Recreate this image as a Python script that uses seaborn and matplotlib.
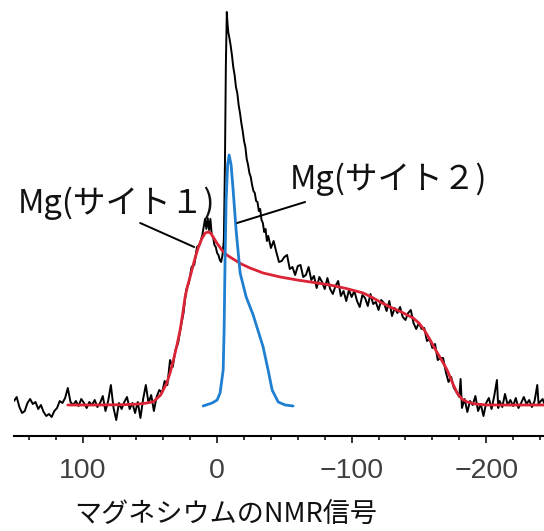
import matplotlib
matplotlib.use("Agg")
import matplotlib.pyplot as plt
import numpy as np
import pandas as pd
import seaborn as sns
from matplotlib.ticker import MultipleLocator

# chemical shift (ppm) and intensity
black_ppm = [
    151, 149, 147, 145, 143, 141, 139, 137, 135, 133, 131, 129, 127, 125, 123, 121,
    119, 117, 115, 113, 111, 109, 107, 105, 103, 101, 99, 97, 95, 93, 91, 89, 87, 85,
    83, 81, 79, 77, 75, 73, 71, 69, 67, 65, 63, 61, 59, 57, 55, 53, 51, 49, 47, 45,
    43, 41, 39, 37, 35, 33, 31, 29, 27, 25, 23, 21, 19, 17, 15, 13, 11, 9, 8, 7, 6,
    5, 4, 3, 2, 1, 0, -1, -2, -3, -4, -5, -5.8, -6.5, -7.2, -7.8, -8.4,
    -9, -10, -11, -12, -13, -14, -15, -16, -17, -18, -19, -20, -21, -22, -23, -24,
    -25, -26, -27, -28, -29, -30, -31, -32, -33, -34, -35, -36, -37,
    -38, -40, -42, -44, -46, -48, -50, -52, -54, -56, -58, -60, -62, -64, -66, -68,
    -70, -72, -74, -76, -78, -80, -82, -84, -86, -88, -90, -92, -94, -96, -98, -100,
    -102, -104, -106, -108, -110, -112, -114, -116, -118, -120, -122, -124, -126,
    -128, -130, -132, -134, -136, -138, -140, -142, -144, -146, -148, -150, -152,
    -154, -156, -158, -160, -162, -164, -166, -168, -170, -172, -174, -176, -178,
    -180, -181, -182, -184, -186, -188, -190, -192, -194, -196, -198, -200, -202,
    -204, -206, -208, -209, -210, -212, -214, -216, -218, -220, -222, -224, -226,
    -228, -230, -232, -234, -236, -238, -239, -240, -242, -243,
]
black_int = [
    4, 8, -2, -8, -6, 2, 6, 1, 3, -4, 0, -7, -11, -9, -12, -6,
    -3, 4, 2, 7, 17, 3, 0, 4, -1, 6, 2, -3, 3, 0, 5, -2, 2, 9,
    -6, 4, 20, -3, -15, 2, -4, 3, 8, -4, 2, -8, 3, -13, 6, 20, 2, 10, -6, 8,
    15, 12, 24, 20, 45, 38, 55, 62, 78, 92, 115, 122, 138, 140, 158, 160, 170, 186, 176, 187, 175,
    186, 170, 168, 160, 158, 152, 150, 145, 143, 150, 165, 240, 340, 393, 380, 372,
    368, 360, 350, 338, 330, 318, 312, 300, 292, 282, 274, 264, 258, 246, 240, 232,
    228, 220, 214, 212, 204, 203, 194, 196, 185, 182, 173, 176, 164,
    169, 157, 164, 153, 143, 144, 148, 150, 136, 138, 130, 139, 140, 128, 130, 138,
    125, 129, 117, 128, 123, 116, 127, 116, 111, 119, 124, 109, 114, 104, 115, 108,
    114, 104, 98, 110, 107, 99, 111, 101, 103, 95, 105, 102, 94,
    104, 89, 97, 92, 98, 88, 85, 92, 95, 82, 76, 82, 76,
    77, 64, 66, 57, 61, 45, 47, 47, 33, 23, 28, 17, 13,
    8, 26, -3, 6, -7, 4, 0, 9, -6, 1, -11, 2, 7,
    -4, 9, 25, -3, 4, -2, 11, 0, 5, -1, 7, -3, 2,
    8, 1, 5, -2, 4, 20, 0, 3, 6, 2,
]

fit_ppm = [
    111, 90, 70, 60, 53, 47.4, 42, 37.4, 35, 32.5, 30, 27.5, 25.5, 23.8, 22, 20.1,
    17, 13.9, 11.5, 8.9, 6.5, 4.5, 2.5, 0.2, -3.5, -7.2, -11.9, -18, -24.5, -34.2,
    -47, -59.5, -72, -84, -96, -108.6, -116, -121.2, -128.6, -137, -145.7, -150,
    -154, -158.4, -162, -166, -171, -175, -178.4, -182, -186, -192, -200.7, -243,
]
fit_int = [
    0, 0, 0.3, 0.8, 1.8, 3.3, 10, 22, 32, 45, 59, 75, 92, 108, 119, 128,
    144, 158, 166, 172, 173, 171.5, 167, 162, 155, 150, 146, 141, 137, 132,
    128, 125, 122.5, 120, 116.5, 112, 107, 103, 98, 93, 87, 82,
    75, 65, 56, 47, 35, 22, 12, 6, 3, 1, 0, 0,
]

site2_ppm = [
    10.4, 3.7, 0, -2.2, -4.5, -5.2, -5.9, -6.7, -7.8, -8.9, -10.4, -11.9, -14.1,
    -17.1, -21.6, -26.8, -34.2, -37.9, -40.9, -45.4, -50.6, -56.5,
]
site2_int = [
    -1, 2, 5, 12, 35, 75, 145, 205, 240, 250, 240, 215, 175,
    132, 108, 90, 58, 35, 15, 3, 0, -1,
]

x_ticks = [100, 0, -100, -200]
labels = ["Mg(サイト１)", "Mg(サイト２)"]
x_title = "マグネシウムのNMR信号"

# label anchors and leader lines (ppm, intensity)
label_pos = [(148, 192), (-54.3, 216)]
leaders = [((57.2, 182), (17.1, 158)), ((-65.4, 203), (-14.9, 182))]

sns.set_theme(style="white")
plt.rcParams["font.family"] = ["Liberation Sans", "DejaVu Sans"]

black = pd.DataFrame({"ppm": black_ppm, "intensity": black_int})
fit = pd.DataFrame({"ppm": fit_ppm, "intensity": fit_int})
site2 = pd.DataFrame({"ppm": site2_ppm, "intensity": site2_int})

fig = plt.figure(figsize=(5.44, 5.31), dpi=100)
ax = fig.add_axes([14 / 544, (531 - 436) / 531, 530 / 544, 436 / 531])

sns.lineplot(data=black, x="ppm", y="intensity", color="black", lw=1.4,
             sort=False, estimator=None, ax=ax, zorder=2)
sns.lineplot(data=fit, x="ppm", y="intensity", color="#dc2437", lw=2.0,
             sort=False, estimator=None, ax=ax, zorder=3)
sns.lineplot(data=site2, x="ppm", y="intensity", color="#1f7fd0", lw=2.0,
             sort=False, estimator=None, ax=ax, zorder=4)

for (x0, y0), (x1, y1) in leaders:
    ax.plot([x0, x1], [y0, y1], color="black", lw=1.4, zorder=5)
for text, (tx, ty) in zip(labels, label_pos):
    ax.text(tx, ty, text, ha="left", va="baseline", fontsize=23.5,
            family=["Noto Sans CJK JP", "DejaVu Sans"], color="#111111", zorder=6)

ax.set_xlim(151, -243)
ax.set_ylim(-31, 405)
ax.set_xticks(x_ticks)
ax.xaxis.set_minor_locator(MultipleLocator(20))
ax.tick_params(axis="x", which="major", direction="out", length=5, width=1.1,
               pad=11, labelsize=20.5, labelcolor="#404040", color="black", bottom=True)
ax.tick_params(axis="x", which="minor", direction="out", length=3, width=1.1,
               color="black", bottom=True)
ax.set_yticks([])
ax.set_xlabel("")
ax.set_ylabel("")
for side in ["left", "top", "right"]:
    ax.spines[side].set_visible(False)
ax.spines["bottom"].set_color("black")
ax.spines["bottom"].set_linewidth(1.5)

fig.text(226 / 544, 1 - 514 / 531, x_title, ha="center", va="center",
         fontsize=19.5, family=["Noto Sans CJK JP", "DejaVu Sans"], color="#111111")

fig.savefig("out.png", dpi=100, facecolor="white")
